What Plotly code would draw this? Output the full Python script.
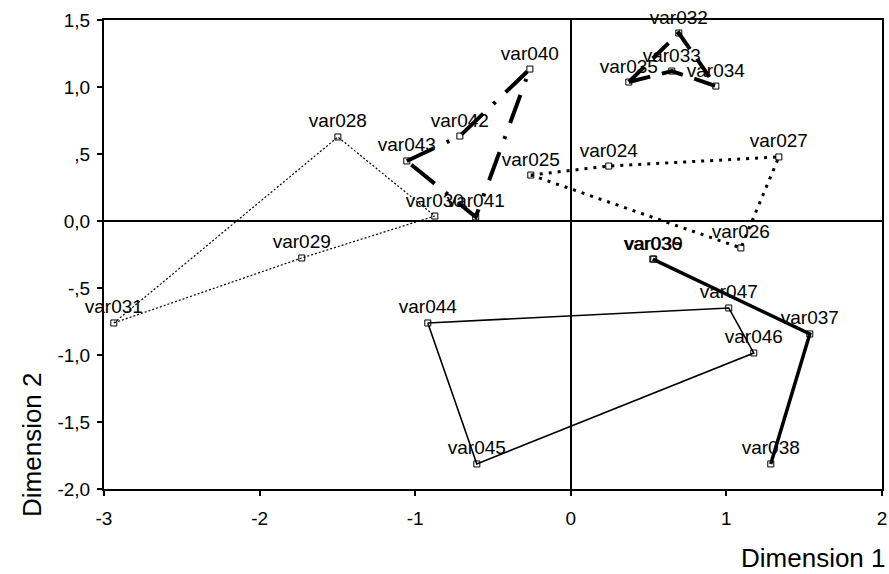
import plotly.graph_objects as go

# ---- data ----
# group A: thick long-dash polygon
a_names = ["var035", "var033", "var034", "var032"]
a_x = [0.373, 0.649, 0.932, 0.694]
a_y = [1.037, 1.119, 1.007, 1.403]

# group B: thick dash-dot polygon
b_names = ["var043", "var042", "var040", "var041"]
b_x = [-1.054, -0.713, -0.263, -0.611]
b_y = [0.448, 0.634, 1.134, 0.030]

# group C: thin dotted polygon
c_names = ["var031", "var028", "var030", "var029"]
c_x = [-2.937, -1.497, -0.874, -1.729]
c_y = [-0.761, 0.627, 0.037, -0.276]

# group D: round-dotted polygon
d_names = ["var025", "var024", "var027", "var026"]
d_x = [-0.257, 0.244, 1.337, 1.093]
d_y = [0.343, 0.410, 0.478, -0.201]

# group E: thick solid path
e_names = ["var039", "var036", "var037", "var038"]
e_x = [0.533, 0.527, 1.536, 1.285]
e_y = [-0.284, -0.284, -0.843, -1.813]

# group F: thin solid polygon
f_names = ["var044", "var047", "var046", "var045"]
f_x = [-0.919, 1.015, 1.176, -0.604]
f_y = [-0.761, -0.649, -0.985, -1.813]

x_ticks = [-3, -2, -1, 0, 1, 2]
x_ticktext = ["-3", "-2", "-1", "0", "1", "2"]
y_ticks = [1.5, 1.0, 0.5, 0.0, -0.5, -1.0, -1.5, -2.0]
y_ticktext = ["1,5", "1,0", ",5", "0,0", "-,5", "-1,0", "-1,5", "-2,0"]

FONT = "Liberation Sans, Arial, sans-serif"
LABEL_SIZE = 19

fig = go.Figure()


def add_points(xs, ys, names):
    fig.add_trace(go.Scatter(
        x=xs, y=ys, mode="markers+text", text=names,
        textposition="top center",
        textfont=dict(family=FONT, size=LABEL_SIZE, color="black"),
        marker=dict(symbol="square-open", size=6, color="black",
                    line=dict(width=1, color="black")),
        cliponaxis=False, showlegend=False, hoverinfo="text"))


def add_group(xs, ys, names, width, dash, closed=True):
    lx = list(xs) + ([xs[0]] if closed else [])
    ly = list(ys) + ([ys[0]] if closed else [])
    fig.add_trace(go.Scatter(
        x=lx, y=ly, mode="lines",
        line=dict(color="black", width=width, dash=dash),
        hoverinfo="skip", showlegend=False))
    add_points(xs, ys, names)


add_group(a_x, a_y, a_names, 4, "22px,12px")
add_group(b_x, b_y, b_names, 4, "30px,14px,3px,14px")
add_group(c_x, c_y, c_names, 1.2, "2px,2px")
add_group(d_x, d_y, d_names, 3, "3px,6px")
add_group(e_x[1:], e_y[1:], e_names[1:], 3.5, "solid", closed=False)
add_points(e_x[:1], e_y[:1], e_names[:1])
add_group(f_x, f_y, f_names, 1.6, "solid")

axis_common = dict(
    showgrid=False, zeroline=True, zerolinecolor="black", zerolinewidth=2,
    showline=True, linecolor="black", linewidth=2, mirror=True,
    ticks="outside", ticklen=5, tickwidth=2, tickcolor="black",
    tickfont=dict(family=FONT, size=19, color="black"),
    automargin=False,
)

fig.update_xaxes(range=[-3, 2], tickvals=x_ticks, ticktext=x_ticktext,
                 ticklabelstandoff=6, **axis_common)
fig.update_yaxes(range=[-2, 1.5], tickvals=y_ticks, ticktext=y_ticktext,
                 ticklabelstandoff=3, **axis_common)

fig.add_annotation(text="Dimension 1", xref="paper", yref="paper",
                   x=(888 - 104) / 778, y=-(558 - 489) / 469,
                   xanchor="right", yanchor="middle", showarrow=False,
                   font=dict(family=FONT, size=26, color="black"))
fig.add_annotation(text="Dimension 2", xref="paper", yref="paper",
                   x=-(104 - 32) / 778, y=(489 - 445) / 469,
                   xanchor="center", yanchor="middle", textangle=-90,
                   showarrow=False,
                   font=dict(family=FONT, size=26, color="black"))

fig.update_layout(
    width=889, height=574,
    margin=dict(l=104, r=7, t=20, b=85),
    paper_bgcolor="white", plot_bgcolor="white",
    showlegend=False,
)

fig.write_html(
    "out.html",
    config={"displayModeBar": False},
    post_script="document.body.style.margin='0';document.body.style.padding='0';"
                "document.body.style.overflow='hidden';",
)
